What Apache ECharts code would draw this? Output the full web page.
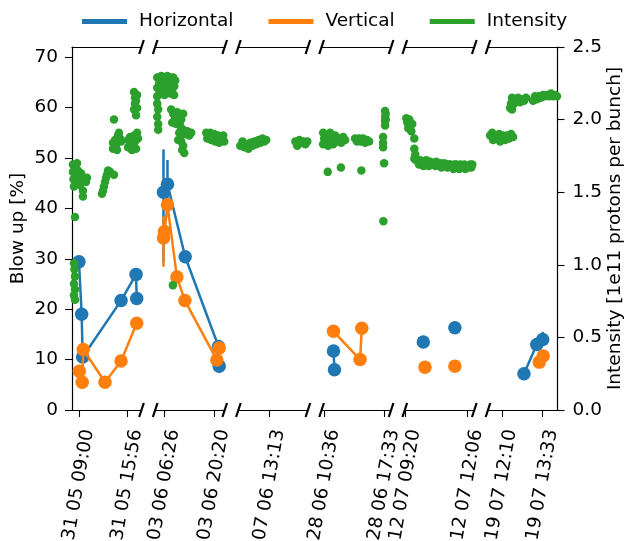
<!DOCTYPE html>
<html>
<head>
<meta charset="utf-8">
<script src="https://cdn.jsdelivr.net/npm/echarts@6/dist/echarts.min.js"></script>
<style>html,body{margin:0;padding:0;background:#fff}#c{width:628px;height:541px}</style>
</head>
<body>
<div id="c"></div>
<script>
// ---- data (x = minutes relative to the first tick of each panel) ----
const panelMin = [-60, -156, -100, -20, -2, -28];
const panelMax = [538, 1010, 122, 466, 184, 113];
const tickValues = [[0, 416], [0, 834], [0], [0, 417], [0, 166], [0, 83]];
const tickLabels = [
  ["31 05 09:00", "31 05 15:56"],
  ["03 06 06:26", "03 06 20:20"],
  ["07 06 13:13"],
  ["28 06 10:36", "28 06 17:33"],
  ["12 07 09:20", "12 07 12:06"],
  ["19 07 12:10", "19 07 13:33"]
];
const leftTicks = [0, 10, 20, 30, 40, 50, 60, 70];
const rightTicks = [0, 0.5, 1.0, 1.5, 2.0, 2.5];

const horiz1 = [[0, 29.4], [23, 19.0], [32, 10.5], [362, 21.7], [491, 26.9], [497, 22.1]];
const horiz2 = [[-17, 43.2], [50, 44.8], [347, 30.4], [906, 12.6], [918, 8.7]];
const horiz3 = [];
const horiz4 = [[63, 11.7], [70, 8.0]];
const horiz5 = [[47.5, 13.5], null, [132, 16.3]];
const horiz6 = [[45, 7.2], [71, 13.0], [83, 14.0]];

const vert1 = [[3, 7.7], [28, 5.5], [37, 12.0], [224, 5.5], [362, 9.7], [497, 17.2]];
const vert2 = [[-17, 34.1], [0, 35.4], [50, 40.7], [208, 26.4], [342, 21.7], [879, 9.9], [918, 12.3]];
const vert3 = [];
const vert4 = [[63, 15.6], [249, 10.0], [261, 16.2]];
const vert5 = [[52, 8.5], null, [132, 8.7]];
const vert6 = [[76, 9.5], [84, 10.7]];

// error bars [x, low, high]
const horizErr2 = [[-17, 29.2, 51.7], [50, 40.0, 49.6]];
const horizErr6 = [[83, 12.8, 15.5]];
const vertErr2 = [[-17, 28.4, 38.4]];

const green1 = [
  [-52, 1.69], [-52, 1.64], [-47, 1.59], [-43, 1.54], [-34, 1.67], [-26, 1.62], [-17, 1.57], [-9, 1.65], [0, 1.60],
  [9, 1.55], [17, 1.63], [26, 1.58], [43, 1.60], [60, 1.57], [69, 1.60], [34, 1.51], [34, 1.47], [-34, 1.33], [-17, 1.70],
  [-43, 1.01], [-39, 0.97], [-34, 0.92], [-43, 0.87], [-34, 0.83], [-43, 0.79], [-34, 0.76],
  [250, 1.65], [241, 1.62], [233, 1.60], [224, 1.57], [215, 1.54], [207, 1.51], [198, 1.49], [267, 1.64], [301, 1.62],
  [301, 2.00],
  [293, 1.84], [293, 1.80], [310, 1.86], [319, 1.82], [336, 1.89], [344, 1.91], [353, 1.87], [362, 1.85], [327, 1.79],
  [422, 1.86], [422, 1.81], [439, 1.88], [448, 1.83], [456, 1.79], [474, 1.89], [482, 1.85], [491, 1.80], [500, 1.91], [508, 1.87],
  [474, 2.19], [482, 2.15], [482, 2.11], [474, 2.07], [491, 2.03], [500, 2.17], [491, 2.13], [500, 2.08]
];
const green2 = [
  [-89, 2.29], [-89, 2.25], [-72, 2.20], [-55, 2.30], [-39, 2.26], [-22, 2.22], [-5, 2.29], [12, 2.25], [29, 2.19],
  [45, 2.30], [62, 2.26], [79, 2.22], [96, 2.29], [112, 2.25], [129, 2.19], [146, 2.29], [163, 2.23], [180, 2.27],
  [-100, 2.17], [0, 2.17], [100, 2.18], [160, 2.17],
  [-122, 2.29], [-122, 2.22], [-122, 2.16], [-122, 2.11], [-106, 2.07], [-122, 2.02], [-106, 1.97], [-106, 1.93],
  [112, 2.07], [146, 2.04], [180, 2.01], [213, 2.05], [247, 2.02], [280, 2.00], [314, 2.04], [129, 1.98], [196, 1.97], [263, 1.96],
  [247, 1.91], [280, 1.89], [314, 1.93], [347, 1.90], [381, 1.92], [415, 1.89], [448, 1.91], [280, 1.85], [314, 1.82],
  [297, 1.79], [331, 1.77], [230, 1.86],
  [700, 1.91], [733, 1.89], [767, 1.91], [800, 1.88], [834, 1.90], [868, 1.87], [901, 1.89], [935, 1.86], [968, 1.87],
  [1002, 1.85], [717, 1.87], [784, 1.86], [851, 1.85], [918, 1.84], [985, 1.89],
  [141, 0.86]
];
const green3 = [
  [-94, 1.82], [-87, 1.85], [-81, 1.81], [-74, 1.83], [-68, 1.80], [-62, 1.84], [-55, 1.82], [-49, 1.85], [-43, 1.83],
  [-36, 1.86], [-30, 1.84], [-23, 1.87], [-17, 1.85], [-11, 1.86],
  [82, 1.85], [88, 1.82], [95, 1.86], [101, 1.84], [108, 1.85], [114, 1.83], [120, 1.85]
];
const green4 = [
  [-9, 1.91], [-2, 1.87], [-9, 1.83], [12, 1.89], [19, 1.85], [26, 1.82], [40, 1.91], [47, 1.87], [61, 1.83], [75, 1.89],
  [89, 1.85], [103, 1.87], [117, 1.84], [131, 1.88], [145, 1.86],
  [23, 1.64], [115, 1.67], [258, 1.65],
  [214, 1.87], [228, 1.85], [242, 1.87], [256, 1.85], [270, 1.87], [284, 1.84], [298, 1.86], [312, 1.85],
  [424, 2.06], [424, 2.02], [424, 1.99], [424, 1.96], [428, 2.04], [428, 2.00],
  [410, 1.88], [410, 1.84], [410, 1.81],
  [417, 1.70], [412, 1.30]
];
const green5 = [
  [2, 2.01], [4.7, 1.98], [7.4, 1.94], [10, 2.00], [12.7, 1.96], [15.4, 1.92], [18, 1.97],
  [23.4, 1.87], [23.4, 1.80], [26.1, 1.76], [23.4, 1.73],
  [28.8, 1.72], [34.1, 1.71], [39.5, 1.72], [44.8, 1.70], [50.2, 1.71], [55.5, 1.72], [60.9, 1.70], [66.2, 1.71],
  [71.6, 1.69], [76.9, 1.70], [82.3, 1.71], [87.6, 1.69], [93, 1.70], [98.4, 1.69], [103.7, 1.70], [109, 1.69],
  [114.4, 1.69], [119.8, 1.69], [125.1, 1.68], [130.5, 1.69], [135.8, 1.69], [141.2, 1.68], [146.5, 1.69],
  [151.9, 1.67], [157.2, 1.69], [162.6, 1.68], [168, 1.67], [173.3, 1.69], [178.7, 1.69],
  [36, 1.69], [48, 1.68], [62, 1.68], [80, 1.68], [96, 1.67], [112, 1.67], [128, 1.66], [144, 1.66], [160, 1.66], [176, 1.67]
];
const green6 = [
  [-23.7, 1.89], [-19.6, 1.91], [-17.6, 1.86], [-13.6, 1.89], [-9.5, 1.87], [-5.5, 1.90], [-1.4, 1.87], [2.6, 1.89],
  [6.7, 1.86], [10.7, 1.89], [14.8, 1.87], [18.8, 1.90], [22.9, 1.88], [-3.4, 1.85],
  [16.8, 2.08], [18.8, 2.11], [20.8, 2.15], [24.9, 2.11], [28.9, 2.13], [33, 2.15], [37, 2.12], [41.1, 2.14],
  [45.1, 2.13], [49.2, 2.15], [20.8, 2.07],
  [63.4, 2.13], [67.4, 2.16], [71.4, 2.14], [75.5, 2.16], [79.5, 2.15], [83.6, 2.17], [87.6, 2.16], [91.7, 2.17],
  [95.7, 2.16], [99.8, 2.18], [103.8, 2.16], [107.9, 2.17], [111.9, 2.16]
];

const horiz = [horiz1, horiz2, horiz3, horiz4, horiz5, horiz6];
const vert = [vert1, vert2, vert3, vert4, vert5, vert6];
const green = [green1, green2, green3, green4, green5, green6];
const horizErr = [[], horizErr2, [], [], [], horizErr6];
const vertErr = [[], vertErr2, [], [], [], []];

// ---- styles / layout ----
const FONT = 'DejaVu Sans';
const FS = 18.5;
const C_H = '#1f77b4', C_V = '#ff7f0e', C_I = '#2ca02c';
const N = 6;
const AXC = '#000';
const grids = [];
const xAxes = [];
const yAxes = [];
const series = [];

function errRender(color) {
  return function (params, api) {
    const p1 = api.coord([api.value(0), api.value(1)]);
    const p2 = api.coord([api.value(0), api.value(2)]);
    return {type: 'line', shape: {x1: p1[0], y1: p1[1], x2: p2[0], y2: p2[1]},
      style: {stroke: color, lineWidth: 2.5}};
  };
}
function breakRender(i) {
  return function (params) {
    const cs = params.coordSys;
    const children = [];
    const edges = [];
    if (i > 0) edges.push(cs.x);
    if (i < N - 1) edges.push(cs.x + cs.width);
    edges.forEach(function (ex) {
      [cs.y, cs.y + cs.height].forEach(function (ey) {
        children.push({type: 'line', shape: {x1: ex - 2.3, y1: ey + 7, x2: ex + 2.3, y2: ey - 7},
          style: {stroke: '#000', lineWidth: 2.2}});
      });
    });
    return {type: 'group', children: children};
  };
}

for (let i = 0; i < N; i++) {
  grids.push({left: 72 + 83.2 * i, top: 47, width: 69.5, height: 363, containLabel: false, outerBoundsMode: 'none'});
  const labs = tickLabels[i], vals = tickValues[i];
  xAxes.push({
    type: 'value', gridIndex: i, position: 'bottom', min: panelMin[i], max: panelMax[i],
    axisLine: {show: true, onZero: false, lineStyle: {color: AXC, width: 1.2}},
    axisTick: {show: true, customValues: vals, length: 7, lineStyle: {color: AXC, width: 1.1}},
    splitLine: {show: false},
    axisLabel: {
      customValues: vals, rotate: 80, margin: 18, verticalAlign: 'top',
      fontFamily: FONT, fontSize: FS, color: '#000',
      formatter: function (v) { const k = vals.indexOf(v); return k >= 0 ? labs[k] : ''; }
    }
  });
  xAxes.push({
    type: 'value', gridIndex: i, position: 'top', min: panelMin[i], max: panelMax[i],
    axisLine: {show: true, onZero: false, lineStyle: {color: AXC, width: 1.2}},
    axisTick: {show: false}, axisLabel: {show: false}, splitLine: {show: false}
  });
  yAxes.push(i === 0 ? {
    type: 'value', gridIndex: i, position: 'left', min: 0, max: 72,
    name: 'Blow up [%]', nameLocation: 'middle', nameRotate: 90, nameGap: 44,
    nameTextStyle: {fontFamily: FONT, fontSize: FS, color: '#000'},
    axisLine: {show: true, onZero: false, lineStyle: {color: AXC, width: 1.2}},
    axisTick: {show: true, customValues: leftTicks, length: 7, lineStyle: {color: AXC, width: 1.1}},
    axisLabel: {customValues: leftTicks, margin: 14, fontFamily: FONT, fontSize: FS, color: '#000'},
    splitLine: {show: false}
  } : {type: 'value', gridIndex: i, min: 0, max: 72, show: false, splitLine: {show: false}});
  yAxes.push(i === N - 1 ? {
    type: 'value', gridIndex: i, position: 'right', min: 0, max: 2.5,
    name: 'Intensity [1e11 protons per bunch]', nameLocation: 'middle', nameRotate: 90, nameGap: 47,
    nameTextStyle: {fontFamily: FONT, fontSize: FS, color: '#000'},
    axisLine: {show: true, onZero: false, lineStyle: {color: AXC, width: 1.2}},
    axisTick: {show: true, customValues: rightTicks, length: 7, lineStyle: {color: AXC, width: 1.1}},
    axisLabel: {customValues: rightTicks, margin: 15, fontFamily: FONT, fontSize: FS, color: '#000',
      formatter: function (v) { return v.toFixed(1); }},
    splitLine: {show: false}
  } : {type: 'value', gridIndex: i, min: 0, max: 2.5, show: false, splitLine: {show: false}});

  const xi = 2 * i, yl = 2 * i, yr = 2 * i + 1;
  series.push({
    name: 'Horizontal', type: 'line', xAxisIndex: xi, yAxisIndex: yl, data: horiz[i],
    symbol: 'circle', symbolSize: 13.5, connectNulls: false, color: C_H,
    lineStyle: {width: 2.5, color: C_H}, itemStyle: {color: C_H}, z: 2, silent: true
  });
  series.push({
    name: 'Horizontal', type: 'custom', xAxisIndex: xi, yAxisIndex: yl, data: horizErr[i],
    encode: {x: 0, y: [1, 2]}, renderItem: errRender(C_H), z: 2, silent: true, color: C_H
  });
  series.push({
    name: 'Vertical', type: 'line', xAxisIndex: xi, yAxisIndex: yl, data: vert[i],
    symbol: 'circle', symbolSize: 13.5, connectNulls: false, color: C_V,
    lineStyle: {width: 2.5, color: C_V}, itemStyle: {color: C_V}, z: 3, silent: true
  });
  series.push({
    name: 'Vertical', type: 'custom', xAxisIndex: xi, yAxisIndex: yl, data: vertErr[i],
    encode: {x: 0, y: [1, 2]}, renderItem: errRender(C_V), z: 3, silent: true, color: C_V
  });
  series.push({
    name: 'Intensity', type: 'scatter', xAxisIndex: xi, yAxisIndex: yr, data: green[i],
    symbol: 'circle', symbolSize: 8.5, color: C_I, itemStyle: {color: C_I, opacity: 1}, z: 4, silent: true
  });
  series.push({
    type: 'custom', xAxisIndex: xi, yAxisIndex: yl, data: [[panelMin[i], 0]],
    renderItem: breakRender(i), clip: false, z: 6, silent: true
  });
}

const chart = echarts.init(document.getElementById('c'), null, {renderer: 'canvas'});
chart.setOption({
  animation: false,
  backgroundColor: '#fff',
  legend: {
    data: ['Horizontal', 'Vertical', 'Intensity'],
    left: 77, top: 7, icon: 'rect', itemWidth: 45, itemHeight: 5, itemGap: 35,
    textStyle: {fontFamily: FONT, fontSize: FS, color: '#000', padding: [0, 0, 0, 7]}
  },
  grid: grids,
  xAxis: xAxes,
  yAxis: yAxes,
  series: series
});
</script>
</body>
</html>
